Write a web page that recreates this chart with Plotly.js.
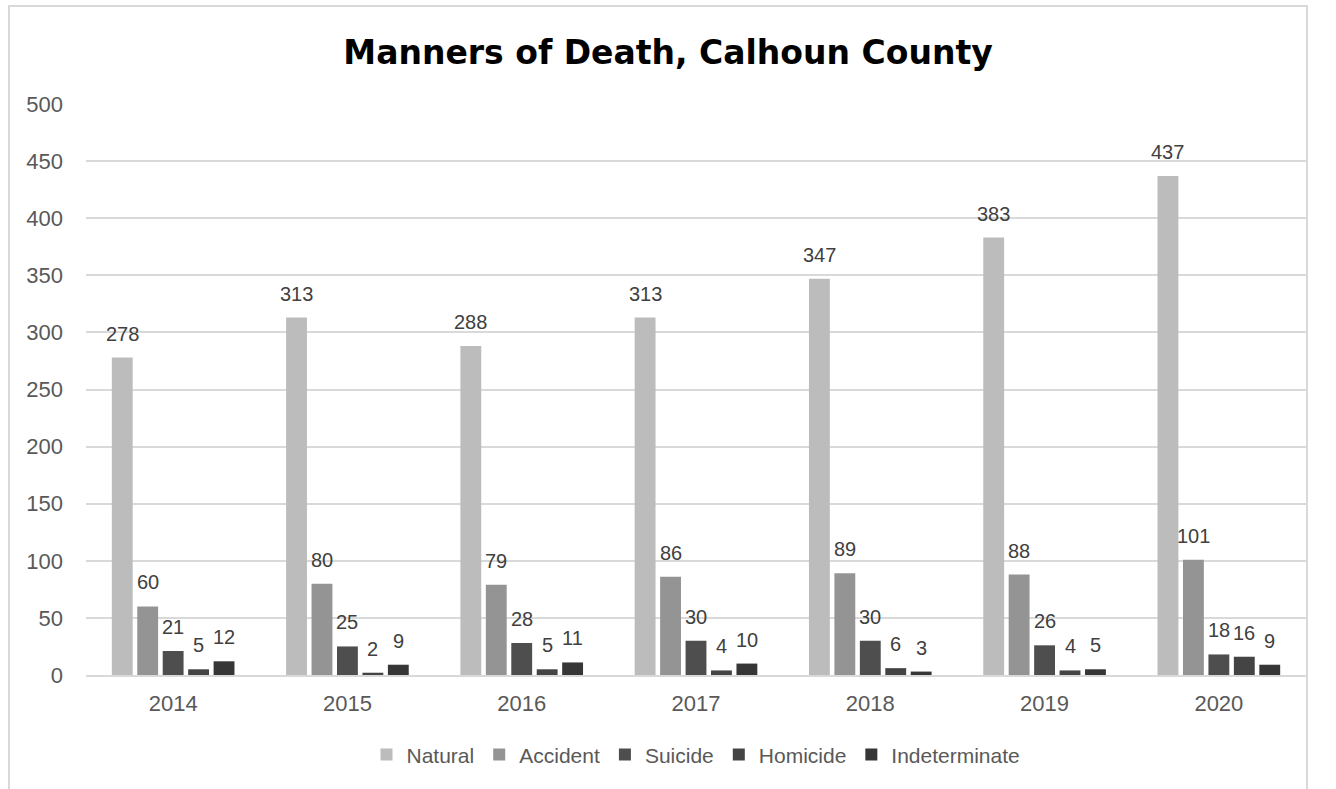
<!DOCTYPE html>
<html><head><meta charset="utf-8">
<script src="https://cdn.plot.ly/plotly-3.0.1.min.js"></script>
<style>
body{margin:0;background:#fff;}
#frame{position:absolute;left:8px;top:5px;width:1300px;height:820px;border:2px solid #d9d9d9;box-sizing:border-box;}
#chart{position:absolute;left:0;top:0;width:1336px;height:789px;}
</style></head>
<body>
<div id="frame"></div>
<div id="chart"></div>
<script>
const years = ['2014','2015','2016','2017','2018','2019','2020'];
const natural = [278,313,288,313,347,383,437];
const accident = [60,80,79,86,89,88,101];
const suicide = [21,25,28,30,30,26,18];
const homicide = [5,2,5,4,6,4,16];
const indeterminate = [12,9,11,10,3,5,9];
const seriesNames = ['Natural','Accident','Suicide','Homicide','Indeterminate'];
const seriesVals = [natural,accident,suicide,homicide,indeterminate];
const colors = ['#bcbcbc','#949494','#4e4e4e','#444444','#363636'];

const BARGAP = 0.27, GROUPGAP = 0.18;
const labelFont = {family:'Liberation Sans, Arial, sans-serif', size:20, color:'#404040'};

const traces = seriesNames.map((n,i)=>({
  type:'bar', name:n, x:years, y:seriesVals[i],
  marker:{color:colors[i]}, hoverinfo:'x+y'
}));

// data labels as annotations placed at each bar's value (through the axes)
const nS = seriesNames.length;
const slot = (1-BARGAP)/nS;
const annotations = [];
seriesVals.forEach((vals,j)=>{
  const off = -(1-BARGAP)/2 + slot*(j+0.5);
  vals.forEach((v,k)=>{
    annotations.push({x:k+off, y:v, xref:'x', yref:'y', text:String(v), showarrow:false,
      yanchor:'bottom', xanchor:'center', yshift:11, font:labelFont});
  });
});

const layout = {
  width:1336, height:789,
  paper_bgcolor:'rgba(0,0,0,0)', plot_bgcolor:'rgba(0,0,0,0)',
  margin:{l:86,r:30,t:104,b:114},
  barmode:'group', bargap:BARGAP, bargroupgap:GROUPGAP,
  title:{text:'<b>Manners of Death, Calhoun County</b>', x:0.5, xanchor:'center', y:0.934, yanchor:'middle', yref:'container',
    font:{family:'"DejaVu Sans", sans-serif', size:33, color:'#000'}},
  xaxis:{type:'category', showgrid:false, showline:true, linecolor:'#d9d9d9', linewidth:2, ticks:'', ticklabelstandoff:8,
    tickfont:{family:'Liberation Sans, Arial, sans-serif', size:22, color:'#595959'}},
  yaxis:{range:[0,500], dtick:50, showgrid:true, gridcolor:'#d9d9d9', gridwidth:2, zeroline:false, showline:false,
    ticks:'', ticklabelstandoff:22, tickfont:{family:'Liberation Sans, Arial, sans-serif', size:22, color:'#595959'}},
  legend:{orientation:'h', x:0.5, xanchor:'center', y:-0.14, yanchor:'middle',
    font:{family:'"Liberation Sans Narrow", "Arial Narrow", Liberation Sans, sans-serif', size:21, color:'#595959'}, itemwidth:30, traceorder:'normal'},
  annotations: annotations,
  showlegend:true
};
Plotly.newPlot('chart', traces, layout, {displayModeBar:false, staticPlot:true});
</script>
</body></html>
